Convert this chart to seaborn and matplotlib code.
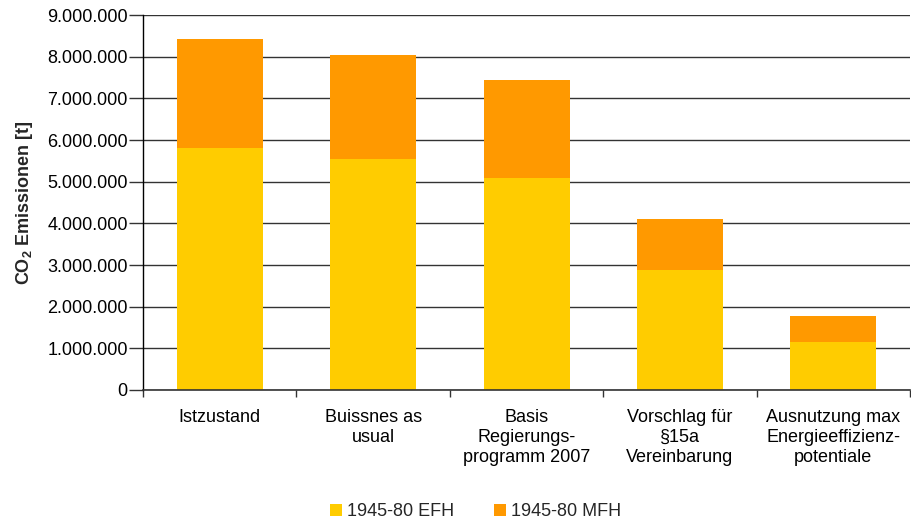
import matplotlib
matplotlib.use("Agg")
import matplotlib.pyplot as plt
import seaborn as sns
import pandas as pd
from matplotlib.ticker import FuncFormatter, FixedLocator
from matplotlib.patches import Patch

categories = ["Istzustand", "Buissnes as\nusual", "Basis\nRegierungs-\nprogramm 2007",
              "Vorschlag für\n§15a\nVereinbarung", "Ausnutzung max\nEnergieeffizienz-\npotentiale"]
efh = [5820000, 5540000, 5100000, 2880000, 1150000]
mfh = [2600000, 2500000, 2340000, 1220000, 630000]
series_names = ["1945-80 EFH", "1945-80 MFH"]
colors = ["#FFCC00", "#FF9900"]

sns.set_theme(style="white")
plt.rcParams["font.family"] = ["Liberation Sans", "DejaVu Sans"]
plt.rcParams["mathtext.fontset"] = "custom"
plt.rcParams["mathtext.rm"] = "Liberation Sans"
plt.rcParams["mathtext.bf"] = "Liberation Sans:bold"

totals = [a + b for a, b in zip(efh, mfh)]
df = pd.DataFrame({"cat": categories, "efh": efh, "total": totals})

fig = plt.figure(figsize=(9.11, 5.22), dpi=100)
ax = fig.add_axes([0.157, 0.253, 0.842, 0.718])

ax.set_axisbelow(True)
ax.yaxis.grid(True, color="#333333", linewidth=1.0)
sns.barplot(data=df, x="cat", y="total", color=colors[1], width=0.56, ax=ax,
            saturation=1, edgecolor="none", linewidth=0)
sns.barplot(data=df, x="cat", y="efh", color=colors[0], width=0.56, ax=ax,
            saturation=1, edgecolor="none", linewidth=0)

ax.set_ylim(0, 9000000)
ax.set_xlim(-0.5, len(categories) - 0.5)
ax.yaxis.set_major_locator(FixedLocator(range(0, 9000001, 1000000)))
ax.yaxis.set_major_formatter(FuncFormatter(lambda v, p: f"{int(v):,}".replace(",", ".")))
ax.set_xlabel("")
ax.set_ylabel(r"CO$_\mathbf{2}$ Emissionen [t]", fontsize=13, fontweight="bold", labelpad=9)
ax.tick_params(axis="y", labelsize=13, colors="black", left=True, length=10, width=1,
               direction="out", pad=1, color="#333333")
ax.tick_params(axis="x", which="major", labelsize=13, colors="black", length=0, pad=14)
ax.set_xticks([i - 0.5 for i in range(len(categories) + 1)], minor=True)
ax.tick_params(axis="x", which="minor", bottom=True, length=5, width=1, direction="out", color="#333333")

for s in ["top", "right"]:
    ax.spines[s].set_visible(False)
ax.spines["left"].set_color("black")
ax.spines["bottom"].set_color("#333333")
ax.spines["left"].set_linewidth(1.0)
ax.spines["bottom"].set_linewidth(1.2)

handles = [Patch(facecolor=c, edgecolor="none", label=n) for c, n in zip(colors, series_names)]
fig.legend(handles=handles, loc="center", bbox_to_anchor=(0.522, 0.02), ncol=2, frameon=False,
           fontsize=13, handlelength=0.65, handleheight=0.65, handletextpad=0.3, columnspacing=2.2,
           borderpad=0)

fig.savefig("out.png", dpi=100)
